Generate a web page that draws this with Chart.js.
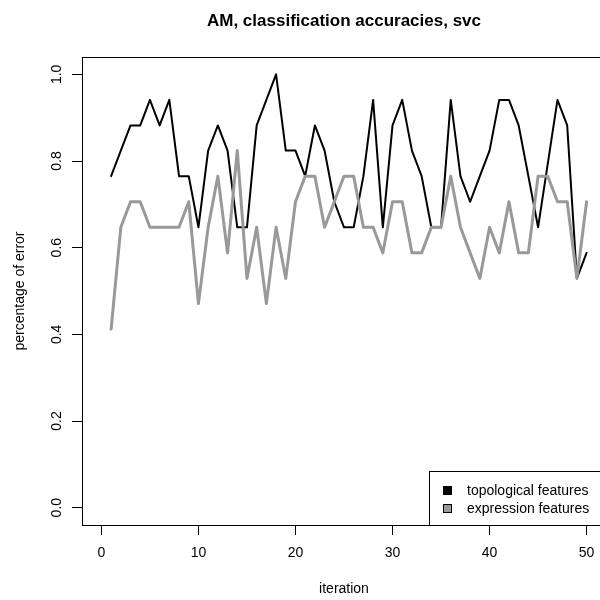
<!DOCTYPE html>
<html lang="en">
<head>
<meta charset="UTF-8">
<title>AM, classification accuracies, svc</title>
<script src="https://cdn.jsdelivr.net/npm/chart.js@4"></script>
<style>
  html, body { margin: 0; padding: 0; background: #fff; overflow: hidden; }
  #wrap { position: absolute; left: 0; top: 0; width: 620px; height: 600px; }
</style>
</head>
<body>
<div id="wrap"><canvas id="chart" width="620" height="600"></canvas></div>
<script>
// ---------- data ----------
const iterations = Array.from({ length: 50 }, (_, i) => i + 1);

const topological = [
  0.765, 0.824, 0.882, 0.882, 0.941, 0.882, 0.941, 0.765, 0.765, 0.647,
  0.824, 0.882, 0.824, 0.647, 0.647, 0.882, 0.941, 1.000, 0.824, 0.824,
  0.765, 0.882, 0.824, 0.706, 0.647, 0.647, 0.765, 0.941, 0.647, 0.882,
  0.941, 0.824, 0.765, 0.647, 0.647, 0.941, 0.765, 0.706, 0.765, 0.824,
  0.941, 0.941, 0.882, 0.765, 0.647, 0.794, 0.941, 0.882, 0.529, 0.588,
];

const expression = [
  0.412, 0.647, 0.706, 0.706, 0.647, 0.647, 0.647, 0.647, 0.706, 0.471,
  0.647, 0.765, 0.588, 0.824, 0.529, 0.647, 0.471, 0.647, 0.529, 0.706,
  0.765, 0.765, 0.647, 0.706, 0.765, 0.765, 0.647, 0.647, 0.588, 0.706,
  0.706, 0.588, 0.588, 0.647, 0.647, 0.765, 0.647, 0.588, 0.529, 0.647,
  0.588, 0.706, 0.588, 0.588, 0.765, 0.765, 0.706, 0.706, 0.529, 0.706,
];

const xTicks = [0, 10, 20, 30, 40, 50];
const yTicks = [0, 0.2, 0.4, 0.6, 0.8, 1.0];
const yTickLabels = ['0.0', '0.2', '0.4', '0.6', '0.8', '1.0'];

const seriesNames = ['topological features', 'expression features'];
const seriesColors = ['#000000', '#999999'];

const FONT = '"Liberation Sans", Arial, Helvetica, sans-serif';

// ---------- R-style decorations ----------
const rDecor = {
  id: 'rDecor',
  afterDatasetsDraw(chart) {
    const { ctx, chartArea: a, scales } = chart;
    ctx.save();

    // plot box
    ctx.strokeStyle = '#000';
    ctx.lineWidth = 1;
    ctx.strokeRect(Math.round(a.left) + 0.5, Math.round(a.top) + 0.5,
      Math.round(a.right - a.left), Math.round(a.bottom - a.top));

    // title
    ctx.fillStyle = '#000';
    ctx.textAlign = 'center';
    ctx.textBaseline = 'middle';
    ctx.font = `bold 17px ${FONT}`;
    ctx.fillText('AM, classification accuracies, svc', (a.left + a.right) / 2, 21);

    // x axis title
    ctx.font = `14px ${FONT}`;
    ctx.fillText('iteration', (a.left + a.right) / 2, 589);

    // y tick labels (rotated, like R's las = 0)
    const y = scales.y;
    yTicks.forEach((v, i) => {
      ctx.save();
      ctx.translate(57, y.getPixelForValue(v));
      ctx.rotate(-Math.PI / 2);
      ctx.fillText(yTickLabels[i], 0, 0);
      ctx.restore();
    });

    // y axis title
    ctx.save();
    ctx.translate(20, (a.top + a.bottom) / 2);
    ctx.rotate(-Math.PI / 2);
    ctx.fillText('percentage of error', 0, 0);
    ctx.restore();

    // legend, bottom right of the plot region
    const lx = 429, ly = 471;
    ctx.fillStyle = '#fff';
    ctx.fillRect(lx, ly, a.right - lx, a.bottom - ly);
    ctx.strokeStyle = '#000';
    ctx.strokeRect(lx + 0.5, ly + 0.5, Math.round(a.right - lx), Math.round(a.bottom - ly));
    ctx.textAlign = 'left';
    seriesNames.forEach((name, i) => {
      const cy = 490 + i * 18;
      ctx.fillStyle = seriesColors[i];
      ctx.fillRect(443, cy - 4, 9, 9);
      ctx.strokeStyle = '#000';
      ctx.strokeRect(443.5, cy - 3.5, 8, 8);
      ctx.fillStyle = '#000';
      ctx.fillText(name, 467, cy + 1);
    });

    ctx.restore();
  },
};

const toPoints = vals => iterations.map((it, i) => ({ x: it, y: vals[i] }));

new Chart(document.getElementById('chart'), {
  type: 'line',
  data: {
    datasets: [
      {
        label: seriesNames[0],
        data: toPoints(topological),
        borderColor: seriesColors[0],
        borderWidth: 2,
        order: 1,
      },
      {
        label: seriesNames[1],
        data: toPoints(expression),
        borderColor: seriesColors[1],
        borderWidth: 3,
        order: 0,
      },
    ],
  },
  options: {
    responsive: false,
    animation: false,
    devicePixelRatio: 1,
    layout: { padding: { top: 57, right: 14, left: 0, bottom: 0 } },
    elements: {
      point: { radius: 0 },
      line: { tension: 0, borderJoinStyle: 'round', borderCapStyle: 'round' },
    },
    plugins: {
      legend: { display: false },
      title: { display: false },
      tooltip: { enabled: false },
    },
    scales: {
      x: {
        type: 'linear',
        min: -2,
        max: 52,
        afterBuildTicks: s => { s.ticks = xTicks.map(v => ({ value: v })); },
        afterFit: s => { s.height = 75; },
        border: { display: false },
        grid: { drawOnChartArea: false, drawTicks: true, tickLength: 10, color: '#000' },
        ticks: { color: '#000', padding: 10, maxRotation: 0, font: { family: FONT, size: 14 } },
      },
      y: {
        type: 'linear',
        min: -0.04,
        max: 1.04,
        afterBuildTicks: s => { s.ticks = yTicks.map(v => ({ value: v })); },
        afterFit: s => { s.width = 82; },
        border: { display: false },
        grid: { drawOnChartArea: false, drawTicks: true, tickLength: 10, color: '#000' },
        ticks: { display: false },
      },
    },
  },
  plugins: [rDecor],
});
</script>
</body>
</html>
